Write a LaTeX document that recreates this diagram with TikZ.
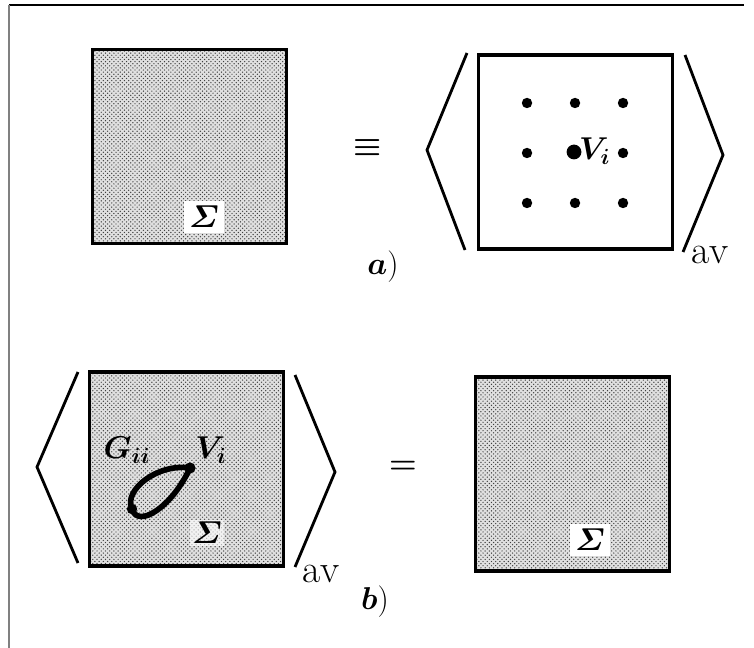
\documentclass[tikz,border=0pt]{standalone}
\usepackage{amsmath,amssymb,bm}
\usepackage{tikz}
\usetikzlibrary{patterns}

\begin{document}
\begin{tikzpicture}[x=0.025cm, y=-0.025cm,
    sigbox/.style={draw, line width=2.2pt, minimum width=4.85cm, minimum height=4.85cm,
        preaction={fill=black!12}, pattern=crosshatch dots, pattern color=black!75},
    plainbox/.style={draw, line width=2.2pt, minimum width=4.85cm, minimum height=4.85cm},
    brak/.style={line width=2pt},
    lab/.style={inner sep=1pt, font=\LARGE, scale=1.3, transform shape},
    avlab/.style={inner sep=1pt, font=\huge, scale=1.35, transform shape},
    dotn/.style={circle, fill=black, inner sep=0pt, minimum size=0.26cm},
    bigdot/.style={circle, fill=black, inner sep=0pt, minimum size=0.37cm}]
    \useasboundingbox (0,0) rectangle (754,648);
    % Rahmen
    \draw[line width=1pt] (9,5) -- (744,5);
    \draw[gray, line width=1.6pt] (9,5) -- (9,648);

    % a) linke Seite
    \node[sigbox] (boxA) at (189.5,146.5) {};
    \node[lab, fill=white, inner sep=3pt] (sigA) at (204,217) {$\bm{\varSigma}$};
    \node[lab] (eqv) at (368,148) {$\bm{\equiv}$};

    % a) rechte Seite, Mittelung
    \draw[brak] (467,53) -- (427,150) -- (465,250);
    \node[plainbox] (boxB) at (575.5,152) {};
    \foreach \x/\y in {527/103, 575/103, 623/103, 527/153, 623/153, 527/203, 575/203, 623/203} {
        \node[dotn] at (\x,\y) {};
    }
    \node[bigdot] (viA) at (574,152) {};
    \node[lab, anchor=west] (lviA) at (577,151) {$\bm{V_i}$};
    \draw[brak] (685,55) -- (723,155) -- (683,252);
    \node[avlab] (avA) at (710,255) {av};
    \node[lab] (la) at (383,267) {$\bm{a})$};

    % b) linke Seite mit Schleife
    \draw[brak] (78,372) -- (37,467) -- (78,563);
    \node[sigbox] (boxC) at (186.5,469) {};
    \node[dotn, minimum size=0.28cm] (viB) at (190,468) {};
    \node[dotn, minimum size=0.26cm] (glB) at (132,509) {};
    \draw[line width=4pt] (viB.center) .. controls (158,463) and (123,490) .. (glB.center)
        .. controls (138,529) and (172,507) .. (viB.center);
    \node[lab] (giiB) at (127,450) {$\bm{G_{ii}}$};
    \node[lab] (lviB) at (211,450) {$\bm{V_i}$};
    \node[lab, fill=white, fill opacity=0.6, text opacity=1] (sigB) at (207,533) {$\bm{\varSigma}$};
    \draw[brak] (295,375) -- (335,472) -- (295,567);
    \node[avlab] (avB) at (321,574) {av};

    % b) rechte Seite
    \node[lab] (eqB) at (403,467) {$\bm{=}$};
    \node[sigbox] (boxD) at (572.5,474) {};
    \node[lab, fill=white, inner sep=3pt] (sigD) at (590,540) {$\bm{\varSigma}$};
    \node[lab] (lb) at (375,602) {$\bm{b})$};
\end{tikzpicture}
\end{document}
